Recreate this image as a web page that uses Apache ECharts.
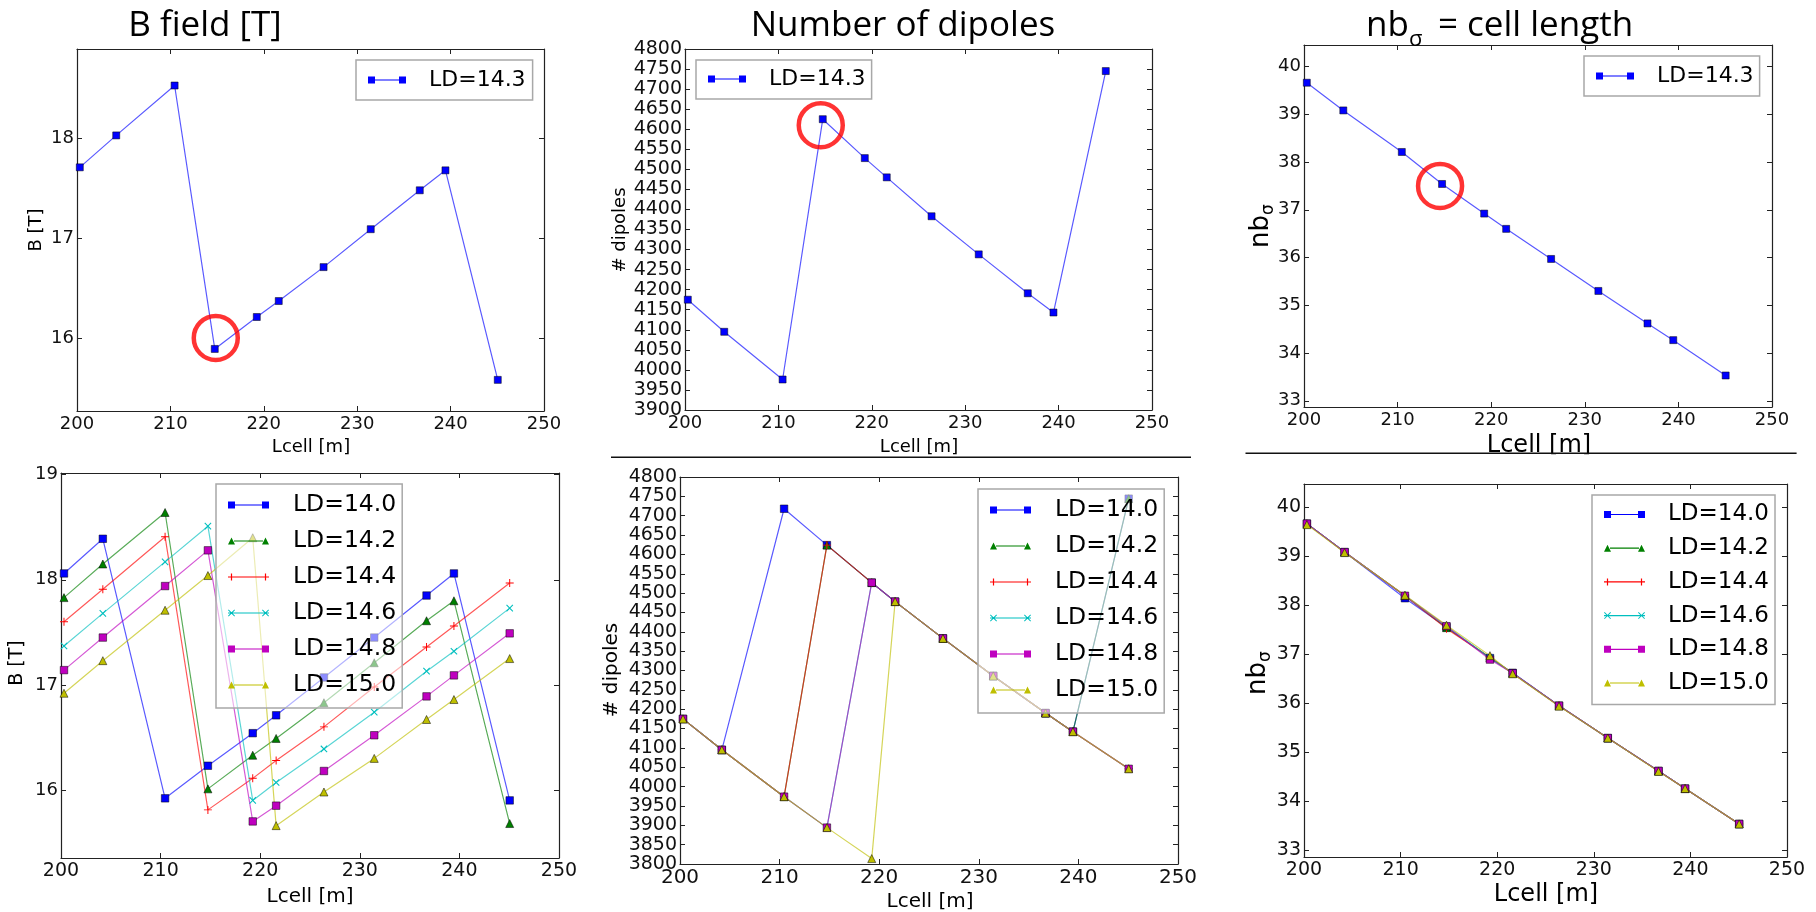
<!DOCTYPE html>
<html>
<head>
<meta charset="utf-8">
<script src="https://cdn.jsdelivr.net/npm/echarts@6/dist/echarts.min.js"></script>
<style>
  html, body { margin: 0; padding: 0; background: #fff; }
  #main { width: 1816px; height: 912px; }
</style>
</head>
<body>
<div id="main"></div>
<script>
// ---- data ---------------------------------------------------------------
// cell lengths scanned [m]
const lcell = [200.3, 204.2, 210.45, 214.75, 219.25, 221.6, 226.4, 231.45, 236.7, 239.45, 245.05];
const xTicks = [200, 210, 220, 230, 240, 250];

// single dipole length, LD = 14.3
const bField143   = [17.71, 18.03, 18.53, 15.89, 16.21, 16.37, 16.71, 17.09, 17.48, 17.68, 15.58];
const dipoles143  = [4175, 4095, 3976, 4625, 4528, 4480, 4383, 4288, 4191, 4143, 4745];
const nbSigma143  = [39.66, 39.08, 38.21, 37.54, 36.92, 36.60, 35.97, 35.30, 34.62, 34.27, 33.53];

// dipole length scan
const ldNames = ['LD=14.0', 'LD=14.2', 'LD=14.4', 'LD=14.6', 'LD=14.8', 'LD=15.0'];

const bField140 = [18.06, 18.39, 15.92, 16.23, 16.54, 16.71, 17.07, 17.45, 17.85, 18.06, 15.90];
const bField142 = [17.83, 18.15, 18.64, 16.01, 16.33, 16.49, 16.83, 17.21, 17.61, 17.80, 15.68];
const bField144 = [17.60, 17.91, 18.41, 15.81, 16.11, 16.28, 16.60, 16.98, 17.36, 17.56, 17.97];
const bField146 = [17.37, 17.68, 18.17, 18.51, 15.90, 16.07, 16.39, 16.74, 17.13, 17.32, 17.73];
const bField148 = [17.14, 17.45, 17.94, 18.28, 15.70, 15.85, 16.18, 16.52, 16.89, 17.09, 17.49];
const bField150 = [16.92, 17.23, 17.71, 18.04, 18.40, 15.66, 15.98, 16.30, 16.67, 16.86, 17.25];

const dipoles140 = [4175, 4095, 4718, 4624, 4527, 4478, 4383, 4286, 4190, 4142, 4744];
const dipoles142 = [4175, 4095, 3974, 4624, 4527, 4478, 4383, 4286, 4190, 4142, 4744];
const dipoles144 = [4175, 4095, 3974, 4624, 4527, 4478, 4383, 4286, 4190, 4142, 4046];
const dipoles146 = [4175, 4095, 3974, 3894, 4527, 4478, 4383, 4286, 4190, 4142, 4046];
const dipoles148 = [4175, 4095, 3974, 3894, 4527, 4478, 4383, 4286, 4190, 4142, 4046];
const dipoles150 = [4175, 4095, 3974, 3894, 3814, 4478, 4383, 4286, 4190, 4142, 4046];

const nbSigma140 = [39.66, 39.08, 38.14, 37.55, 36.92, 36.62, 35.95, 35.29, 34.62, 34.26, 33.54];
const nbSigma142 = [39.66, 39.08, 38.19, 37.54, 36.93, 36.61, 35.95, 35.29, 34.62, 34.26, 33.54];
const nbSigma144 = [39.66, 39.08, 38.19, 37.52, 36.93, 36.61, 35.95, 35.29, 34.62, 34.26, 33.54];
const nbSigma146 = [39.66, 39.08, 38.19, 37.57, 36.92, 36.61, 35.95, 35.29, 34.62, 34.26, 33.54];
const nbSigma148 = [39.66, 39.08, 38.19, 37.57, 36.89, 36.61, 35.95, 35.29, 34.62, 34.26, 33.54];
const nbSigma150 = [39.64, 39.07, 38.20, 37.59, 36.97, 36.60, 35.94, 35.29, 34.61, 34.26, 33.54];

// y tick labels
const yTicksB1   = [16, 17, 18];
const yTicksB2   = [16, 17, 18, 19];
const yTicksNb   = [33, 34, 35, 36, 37, 38, 39, 40];

// highlighted working point (LD = 14.3, Lcell = 214.75 m)
const markB   = [[214.75, 15.89]];
const markDip = [[214.75, 4625]];
const markNb  = [[214.75, 37.54]];

// ---- styling ------------------------------------------------------------
const FONT = 'DejaVu Sans';
const TITLE_FONT = '"Open Sans", sans-serif';

const grids = [
  { left: 77,   top: 49,  width: 467, height: 362 },
  { left: 685,  top: 49,  width: 467, height: 361 },
  { left: 1304, top: 45,  width: 468, height: 362 },
  { left: 61,   top: 473, width: 498, height: 385 },
  { left: 680,  top: 477, width: 498, height: 387 },
  { left: 1304, top: 484, width: 483, height: 373 }
];

const yCfg = [
  { min: 15.268, max: 18.896, ticks: yTicksB1, fs: 18 },
  { min: 3900,   max: 4800,   interval: 50,    fs: 19 },
  { min: 32.87,  max: 40.45,  ticks: yTicksNb, fs: 18 },
  { min: 15.352, max: 19.016, ticks: yTicksB2, fs: 18 },
  { min: 3800,   max: 4800,   interval: 50,    fs: 19 },
  { min: 32.866, max: 40.468, ticks: yTicksNb, fs: 19 }
];
const xLabelFs = [18, 18, 18, 19, 20, 19];

const FRAME = { color: '#222', width: 1.2 };

// marker shapes
const PLUS_PATH = 'path://M0,4.4H10V5.6H0Z M4.4,0H5.6V10H4.4Z';
const styles = {
  'LD=14.3': { color: '#0000ff', marker: 'rect', size: 7, rot: 0, kind: 'sq' },
  'LD=14.0': { color: '#0000ff', marker: 'rect', size: 7.5, rot: 0, kind: 'sq' },
  'LD=14.2': { color: '#008000', marker: 'triangle', size: 8, rot: 0, kind: 'tri' },
  'LD=14.4': { color: '#ff0000', marker: PLUS_PATH, size: 8, rot: 0, kind: 'plus' },
  'LD=14.6': { color: '#00bfbf', marker: PLUS_PATH, size: 9, rot: 45, kind: 'x' },
  'LD=14.8': { color: '#bf00bf', marker: 'rect', size: 7.5, rot: 0, kind: 'sq' },
  'LD=15.0': { color: '#bfbf00', marker: 'triangle', size: 8, rot: 0, kind: 'tri' }
};

function legendIcon(kind, w) {
  const h = 7, a = w - 7;
  const line = `M6,2.9H${w - 6}V4.1H6Z`;
  if (kind === 'sq') return `path://M0,0H7V7H0Z M${a},0H${w}V7H${a}Z ${line}`;
  if (kind === 'tri') return `path://M0,7L3.5,0L7,7Z M${a},7L${a + 3.5},0L${w},7Z ${line}`;
  if (kind === 'plus') return `path://M0,2.9H${w}V4.1H0Z M2.9,0H4.1V${h}H2.9Z M${w - 4.1},0H${w - 2.9}V${h}H${w - 4.1}Z`;
  // x marker
  const cross = (o) => `M${o},0.7L${o + 0.7},0L${o + 7},6.3L${o + 6.3},7Z M${o + 6.3},0L${o + 7},0.7L${o + 0.7},7L${o},6.3Z`;
  return `path://${cross(0)} ${cross(a)} M0,2.9H${w}V4.1H0Z`;
}

// ---- axes ---------------------------------------------------------------
const plain = (v) => String(v);
const xAxes = [], yAxes = [];
grids.forEach((g, i) => {
  const tickIn = { show: true, inside: true, length: 5, lineStyle: { color: FRAME.color, width: 1 } };
  const base = { gridIndex: i, type: 'value', splitLine: { show: false },
                 axisLine: { show: true, onZero: false, lineStyle: FRAME } };
  xAxes.push(Object.assign({}, base, {
    position: 'bottom', min: 200, max: 250, interval: 10,
    axisTick: tickIn,
    axisLabel: { show: true, margin: 4, fontFamily: FONT, fontSize: xLabelFs[i], color: '#111', formatter: plain }
  }));
  xAxes.push(Object.assign({}, base, {
    position: 'top', min: 200, max: 250, interval: 10,
    axisTick: tickIn, axisLabel: { show: false }
  }));
  const c = yCfg[i];
  const yb = { min: c.min, max: c.max };
  if (c.interval) yb.interval = c.interval;
  const lab = { show: true, margin: 3, fontFamily: FONT, fontSize: c.fs, color: '#111', formatter: plain };
  const tk = Object.assign({}, tickIn);
  if (c.ticks) { lab.customValues = c.ticks; tk.customValues = c.ticks; }
  yAxes.push(Object.assign({}, base, yb, { position: 'left', axisTick: tk, axisLabel: lab }));
  yAxes.push(Object.assign({}, base, yb, { position: 'right', axisTick: Object.assign({}, tk), axisLabel: { show: false } }));
});

// ---- series -------------------------------------------------------------
function lineSeries(name, gridIdx, values) {
  const s = styles[name];
  const hasBorder = s.kind === 'sq' || s.kind === 'tri';
  return {
    type: 'line', name,
    xAxisIndex: gridIdx * 2, yAxisIndex: gridIdx * 2,
    data: lcell.map((x, k) => [x, values[k]]),
    symbol: s.marker, symbolSize: s.size, symbolRotate: s.rot,
    showAllSymbol: true,
    lineStyle: { color: s.color, width: 1.2, opacity: 0.65 },
    itemStyle: { color: s.color, borderColor: hasBorder ? '#000' : s.color, borderWidth: hasBorder ? 0.5 : 0, opacity: 1 },
    emphasis: { disabled: true },
    z: 3
  };
}

function ringSeries(gridIdx, pts, offset) {
  return {
    type: 'scatter', name: 'working point',
    xAxisIndex: gridIdx * 2, yAxisIndex: gridIdx * 2,
    data: pts, symbol: 'circle', symbolSize: 44, symbolOffset: offset,
    itemStyle: { color: 'rgba(0,0,0,0)', borderColor: '#ff0000', borderWidth: 4.5 },
    emphasis: { disabled: true }, z: 6
  };
}

const scanB   = [bField140, bField142, bField144, bField146, bField148, bField150];
const scanDip = [dipoles140, dipoles142, dipoles144, dipoles146, dipoles148, dipoles150];
const scanNb  = [nbSigma140, nbSigma142, nbSigma144, nbSigma146, nbSigma148, nbSigma150];

const series = [
  lineSeries('LD=14.3', 0, bField143),
  lineSeries('LD=14.3', 1, dipoles143),
  lineSeries('LD=14.3', 2, nbSigma143),
  ringSeries(0, markB, [1, -11]),
  ringSeries(1, markDip, [-2, 6]),
  ringSeries(2, markNb, [-2, 2])
];
ldNames.forEach((n, k) => {
  series.push(lineSeries(n, 3, scanB[k]));
  series.push(lineSeries(n, 4, scanDip[k]));
  series.push(lineSeries(n, 5, scanNb[k]));
});

// ---- legends ------------------------------------------------------------
function legendBox(o) {
  return {
    orient: 'vertical', left: o.left, top: o.top, padding: o.padding,
    itemWidth: o.iw, itemHeight: 7, itemGap: o.gap,
    backgroundColor: 'rgba(255,255,255,0.55)', borderColor: '#a8a8a8', borderWidth: 1.5,
    selectedMode: false,
    itemStyle: { borderWidth: 0 },
    formatter: (name) => '{t|' + name + '}',
    textStyle: {
      fontFamily: FONT, fontSize: o.fs, color: '#000',
      rich: { t: { fontFamily: FONT, fontSize: o.fs, lineHeight: o.lh, color: '#000', padding: [0, 0, 0, o.tp] } }
    },
    data: o.names.map(n => ({ name: n, icon: legendIcon(styles[n].kind, o.iw) }))
  };
}

const legends = [
  legendBox({ left: 356,  top: 60,  padding: [9, 7, 9, 12],  iw: 38, gap: 10, fs: 22, lh: 23, tp: 18, names: ['LD=14.3'] }),
  legendBox({ left: 696,  top: 60,  padding: [8, 6, 9, 12],  iw: 38, gap: 10, fs: 22, lh: 23, tp: 18, names: ['LD=14.3'] }),
  legendBox({ left: 1584, top: 56,  padding: [9, 6, 9, 12],  iw: 38, gap: 10, fs: 22, lh: 23, tp: 18, names: ['LD=14.3'] }),
  legendBox({ left: 216,  top: 484, padding: [9, 6, 11, 12], iw: 41, gap: 12, fs: 23.5, lh: 24, tp: 19, names: ldNames }),
  legendBox({ left: 978,  top: 489, padding: [9, 6, 11, 12], iw: 41, gap: 12, fs: 23.5, lh: 24, tp: 19, names: ldNames }),
  legendBox({ left: 1592, top: 495, padding: [8, 6, 10, 12], iw: 41, gap: 10.7, fs: 23, lh: 24, tp: 18, names: ldNames })
];

// ---- titles, axis names, separators ---------------------------------------
function txt(text, x, y, size, opts) {
  opts = opts || {};
  return {
    type: 'text', x, y, rotation: opts.rot || 0, z: opts.z || 10,
    style: { text, fontFamily: opts.font || FONT, fontSize: size, fill: '#000',
             align: opts.align || 'center', verticalAlign: opts.valign || 'middle' }
  };
}
function nbSigmaLabel(x, y, size) {
  return {
    type: 'group', x, y, rotation: Math.PI / 2, z: 10,
    children: [
      { type: 'text', x: 0, y: 0, style: { text: 'nb', fontFamily: FONT, fontSize: size, fill: '#000', align: 'left', verticalAlign: 'middle' } },
      { type: 'text', x: size * 1.27, y: size * 0.3, style: { text: 'σ', fontFamily: FONT, fontSize: size * 0.65, fill: '#000', align: 'left', verticalAlign: 'middle' } }
    ]
  };
}

const graphic = [
  // titles
  txt('B field [T]', 205, 26, 35, { font: TITLE_FONT }),
  txt('Number of dipoles', 903, 26, 35, { font: TITLE_FONT }),
  txt('nb', 1366, 26, 35, { font: TITLE_FONT, align: 'left' }),
  txt('σ', 1409, 40, 22, { font: TITLE_FONT, align: 'left' }),
  txt('= cell length', 1438, 26, 35, { font: TITLE_FONT, align: 'left' }),

  // axis names
  txt('Lcell [m]', 311, 447, 18),
  txt('B [T]', 36, 230, 18, { rot: Math.PI / 2 }),
  txt('Lcell [m]', 919, 447, 18),
  txt('# dipoles', 620, 230, 18, { rot: Math.PI / 2 }),
  txt('Lcell [m]', 1539, 446, 24),
  nbSigmaLabel(1261, 248, 26),

  txt('Lcell [m]', 310, 897, 20),
  txt('B [T]', 17, 663, 19, { rot: Math.PI / 2 }),
  txt('Lcell [m]', 930, 902, 20),
  txt('# dipoles', 612, 670, 20, { rot: Math.PI / 2 }),
  txt('Lcell [m]', 1546, 895, 24),
  nbSigmaLabel(1258, 695, 26),

  // cut-off strips and separator rules
  { type: 'rect', z: 20, shape: { x: 1240, y: 454.2, width: 570, height: 18 }, style: { fill: '#fff' } },
  { type: 'rect', z: 20, shape: { x: 1420, y: 905, width: 260, height: 10 }, style: { fill: '#fff' } },
  { type: 'line', z: 21, shape: { x1: 611, y1: 457.3, x2: 1191, y2: 457.3 }, style: { stroke: '#111', lineWidth: 1.5 } },
  { type: 'line', z: 21, shape: { x1: 1245.5, y1: 453.3, x2: 1796.6, y2: 453.3 }, style: { stroke: '#111', lineWidth: 1.5 } }
];

const chart = echarts.init(document.getElementById('main'), null, { renderer: 'canvas' });
chart.setOption({
  animation: false,
  backgroundColor: '#fff',
  grid: grids,
  xAxis: xAxes,
  yAxis: yAxes,
  legend: legends,
  series,
  graphic
});
</script>
</body>
</html>
